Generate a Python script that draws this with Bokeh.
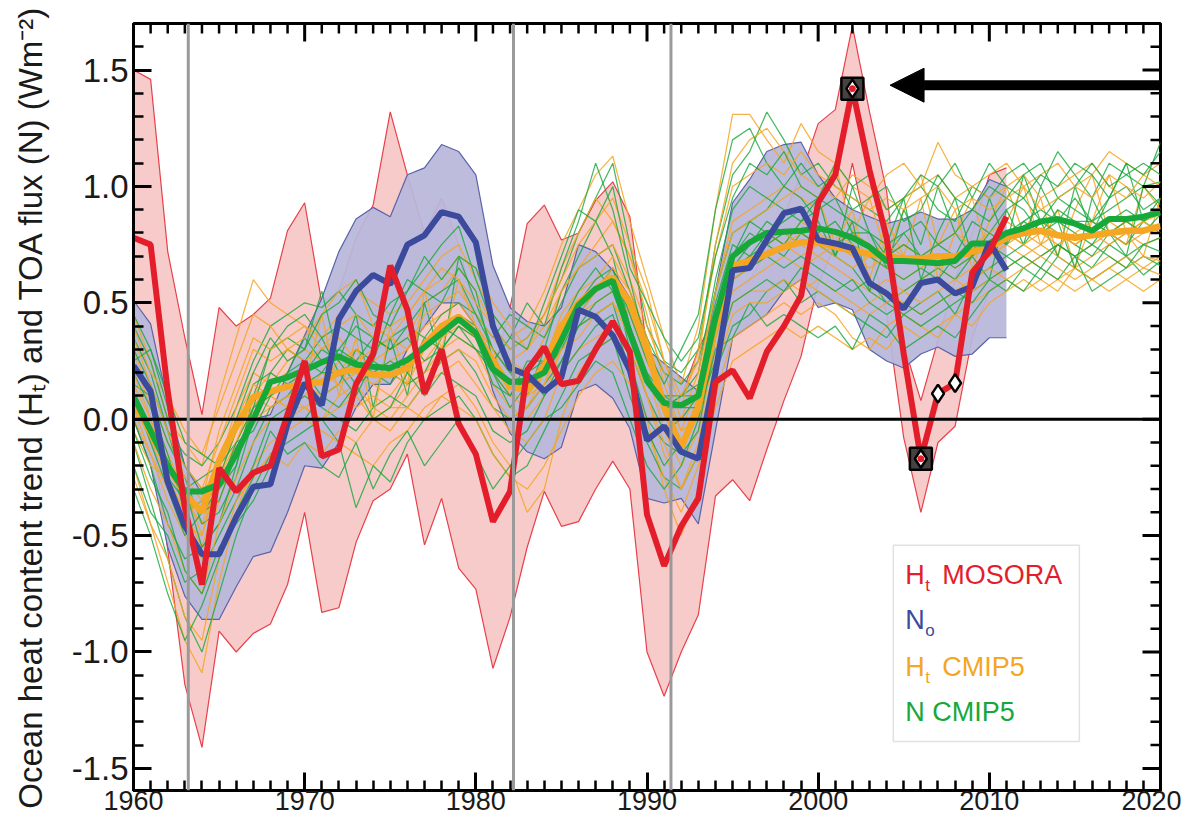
import math
from bokeh.plotting import figure
from bokeh.models import (Range1d, FixedTicker, NumeralTickFormatter, Span, Label,
                          BoxAnnotation, Arrow, NormalHead)
from bokeh.embed import file_html
from bokeh.resources import INLINE

# ---------------- data ----------------
years_obs = list(range(1960, 2012))
years_cmip = list(range(1960, 2021))

# Ht MOSORA (red) and its uncertainty band
mosora = [0.78, 0.75, 0.12, -0.38, -0.71, -0.21, -0.31, -0.23, -0.20, 0.02,
          0.25, -0.16, -0.13, 0.15, 0.28, 0.66, 0.47, 0.11, 0.30, -0.02,
          -0.15, -0.44, -0.31, 0.21, 0.31, 0.15, 0.165, 0.30, 0.42, 0.29,
          -0.41, -0.63, -0.46, -0.34, 0.16, 0.21, 0.09, 0.29, 0.40, 0.53,
          0.93, 1.05, 1.42, 1.07, 0.78, 0.28, -0.17, 0.11, 0.155, 0.63,
          0.72, 0.87]
mosora_hi = [1.50, 1.46, 0.72, 0.35, 0.02, 0.48, 0.40, 0.45, 0.52, 0.81,
             0.93, 0.50, 0.55, 0.78, 0.92, 1.32, 1.05, 0.80, 0.95, 0.75,
             0.45, 0.20, 0.48, 0.84, 0.92, 0.77, 0.80, 0.94, 1.02, 0.87,
             0.30, -0.05, 0.10, 0.30, 0.45, 0.55, 0.60, 0.72, 0.88, 1.05,
             1.27, 1.33, 1.69, 1.32, 0.98, 0.32, 0.08, 0.34, 0.60, 0.80,
             1.05, 1.08]
mosora_lo = [0.30, 0.00, -0.56, -1.14, -1.41, -0.91, -1.00, -0.92, -0.88, -0.71,
             -0.40, -0.83, -0.81, -0.53, -0.35, -0.30, -0.15, -0.54, -0.34, -0.64,
             -0.73, -1.07, -0.85, -0.55, -0.31, -0.46, -0.44, -0.30, -0.18, -0.30,
             -1.00, -1.19, -1.00, -0.84, -0.33, -0.26, -0.35, -0.13, 0.08, 0.27,
             0.58, 0.75, 1.10, 0.75, 0.45, -0.08, -0.40, -0.10, -0.03, 0.35,
             0.55, 0.65]

# No (blue) and its uncertainty band
n_obs = [0.23, 0.12, -0.27, -0.46, -0.58, -0.58, -0.42, -0.29, -0.28, -0.02,
         0.155, 0.06, 0.43, 0.55, 0.62, 0.58, 0.75, 0.79, 0.89, 0.87,
         0.76, 0.40, 0.22, 0.19, 0.12, 0.18, 0.47, 0.44, 0.36, 0.21,
         -0.09, -0.03, -0.14, -0.17, 0.20, 0.64, 0.65, 0.77, 0.885, 0.905,
         0.77, 0.755, 0.735, 0.585, 0.54, 0.475, 0.585, 0.60, 0.54, 0.57,
         0.76, 0.64]
n_obs_hi = [0.51, 0.41, 0.07, -0.20, -0.32, -0.30, -0.12, 0.00, 0.02, 0.20,
            0.36, 0.52, 0.72, 0.86, 0.91, 0.87, 1.05, 1.08, 1.18, 1.15,
            1.05, 0.66, 0.48, 0.42, 0.40, 0.48, 0.75, 0.72, 0.64, 0.52,
            0.30, 0.24, 0.18, 0.12, 0.55, 0.93, 1.03, 1.15, 1.18, 1.19,
            1.05, 0.95, 0.90, 0.87, 0.84, 0.86, 0.89, 0.86, 0.86, 0.90,
            1.03, 1.00]
n_obs_lo = [0.00, -0.20, -0.55, -0.76, -0.86, -0.86, -0.72, -0.59, -0.57, -0.40,
            -0.20, -0.21, -0.10, 0.05, 0.15, 0.15, 0.30, 0.40, 0.50, 0.50,
            0.40, 0.12, -0.06, -0.14, -0.17, -0.12, 0.12, 0.15, 0.09, -0.04,
            -0.34, -0.36, -0.34, -0.45, -0.05, 0.35, 0.40, 0.45, 0.55, 0.60,
            0.48, 0.50, 0.47, 0.30, 0.25, 0.22, 0.28, 0.31, 0.27, 0.28,
            0.35, 0.35]

# CMIP5 ensemble means
ht_cmip5_mean = [0.08, -0.06, -0.20, -0.32, -0.40, -0.18, -0.03, 0.095, 0.12, 0.14,
                 0.15, 0.16, 0.20, 0.215, 0.19, 0.19, 0.22, 0.32, 0.40, 0.44,
                 0.37, 0.25, 0.14, 0.125, 0.23, 0.40, 0.50, 0.56, 0.61, 0.50,
                 0.30, 0.05, -0.12, 0.05, 0.40, 0.66, 0.68, 0.71, 0.74, 0.76,
                 0.76, 0.74, 0.725, 0.71, 0.70, 0.69, 0.69, 0.70, 0.70, 0.72,
                 0.735, 0.78, 0.80, 0.81, 0.79, 0.78, 0.79, 0.80, 0.81, 0.81,
                 0.83]
n_cmip5_mean = [0.10, -0.05, -0.20, -0.31, -0.31, -0.28, -0.15, 0.00, 0.16, 0.18,
                0.21, 0.245, 0.27, 0.235, 0.225, 0.22, 0.255, 0.31, 0.37, 0.43,
                0.37, 0.215, 0.16, 0.165, 0.20, 0.34, 0.49, 0.56, 0.595, 0.37,
                0.165, 0.07, 0.06, 0.10, 0.435, 0.70, 0.76, 0.80, 0.805, 0.81,
                0.82, 0.805, 0.78, 0.74, 0.68, 0.68, 0.675, 0.67, 0.68, 0.755,
                0.755, 0.80, 0.82, 0.85, 0.86, 0.84, 0.81, 0.86, 0.86, 0.87,
                0.89]

# N CMIP5 individual models (thin green)
n_m01 = [0.35, 0.20, -0.05, -0.15, -0.20, -0.10, 0.05, 0.25, 0.40, 0.45,
         0.50, 0.48, 0.55, 0.45, 0.40, 0.50, 0.55, 0.65, 0.75, 0.83,
         0.60, 0.40, 0.30, 0.35, 0.45, 0.60, 0.80, 0.95, 1.10, 0.75,
         0.40, 0.25, 0.20, 0.30, 0.75, 1.05, 1.15, 1.32, 1.20, 1.05,
         1.10, 1.00, 0.95, 0.90, 0.85, 0.95, 1.00, 0.90, 0.85, 1.00,
         0.95, 1.05, 1.10, 1.00, 1.15, 1.05, 0.95, 1.10, 1.05, 1.00, 1.19]
n_m02 = [-0.10, -0.35, -0.60, -0.85, -1.00, -0.75, -0.50, -0.30, -0.15, -0.10,
         -0.05, 0.00, -0.10, -0.38, -0.20, -0.27, -0.10, 0.00, 0.05, 0.10,
         0.00, -0.15, -0.25, -0.20, -0.05, 0.10, 0.25, 0.30, 0.35, 0.10,
         -0.10, -0.25, -0.30, -0.15, 0.20, 0.40, 0.45, 0.55, 0.60, 0.50,
         0.55, 0.50, 0.45, 0.40, 0.35, 0.45, 0.40, 0.45, 0.50, 0.55,
         0.60, 0.55, 0.65, 0.60, 0.70, 0.65, 0.60, 0.65, 0.70, 0.62, 0.68]
n_m03 = [0.20, 0.05, -0.15, -0.40, -0.35, -0.30, -0.20, 0.10, 0.30, 0.35,
         0.30, 0.55, 0.25, 0.45, 0.05, 0.35, 0.10, 0.50, 0.25, 0.70,
         0.50, 0.30, 0.20, 0.10, 0.30, 0.55, 0.70, 0.85, 0.70, 0.40,
         0.20, 0.05, 0.10, 0.20, 0.60, 0.90, 1.00, 0.95, 0.90, 0.85,
         0.90, 0.95, 0.80, 0.75, 0.70, 0.80, 0.85, 0.75, 0.70, 0.85,
         0.80, 0.90, 0.95, 0.85, 0.95, 0.90, 0.85, 0.95, 1.00, 0.90, 0.95]
n_m04 = [0.00, -0.20, -0.45, -0.60, -0.55, -0.45, -0.30, -0.10, 0.05, 0.10,
         0.20, 0.10, 0.15, 0.30, 0.25, 0.20, 0.15, 0.20, 0.35, 0.45,
         0.40, 0.20, 0.05, 0.15, 0.20, 0.30, 0.45, 0.55, 0.60, 0.30,
         0.10, -0.05, 0.00, 0.10, 0.45, 0.70, 0.80, 0.75, 0.70, 0.80,
         0.75, 0.70, 0.65, 0.55, 0.50, 0.55, 0.60, 0.65, 0.60, 0.70,
         0.75, 0.70, 0.75, 0.85, 0.80, 0.75, 0.70, 0.80, 0.75, 0.85, 0.80]
n_m05 = [0.40, 0.25, 0.00, -0.20, -0.30, -0.25, -0.05, 0.15, 0.20, 0.30,
         0.25, 0.35, 0.40, 0.35, 0.30, 0.35, 0.40, 0.35, 0.45, 0.50,
         0.45, 0.35, 0.45, 0.40, 0.35, 0.50, 0.65, 0.70, 0.75, 0.55,
         0.35, 0.20, 0.15, 0.25, 0.55, 0.80, 0.85, 0.90, 1.00, 0.95,
         0.85, 0.70, 1.00, 0.80, 0.65, 0.90, 0.75, 1.00, 0.80, 0.70,
         0.95, 0.75, 1.05, 0.85, 0.70, 1.00, 0.80, 0.95, 1.10, 0.85, 0.95]
n_m06 = [-0.20, -0.40, -0.50, -0.70, -0.65, -0.50, -0.35, -0.20, 0.00, 0.05,
         0.10, 0.05, 0.00, -0.05, 0.05, 0.10, 0.05, 0.15, 0.25, 0.30,
         0.20, 0.05, 0.00, 0.05, 0.15, 0.25, 0.40, 0.45, 0.50, 0.25,
         0.00, -0.10, -0.15, -0.05, 0.35, 0.60, 0.65, 0.70, 0.65, 0.70,
         0.65, 0.60, 0.55, 0.60, 0.50, 0.45, 0.50, 0.55, 0.45, 0.60,
         0.65, 0.70, 0.65, 0.70, 0.75, 0.70, 0.65, 0.75, 0.70, 0.75, 0.78]
n_m07 = [0.15, 0.10, -0.10, -0.25, -0.45, -0.40, -0.25, 0.00, 0.20, 0.15,
         0.20, 0.30, 0.25, 0.15, 0.20, 0.25, 0.20, 0.35, 0.30, 0.40,
         0.35, 0.15, 0.10, 0.25, 0.25, 0.40, 0.55, 0.65, 0.55, 0.35,
         0.15, 0.05, 0.05, 0.05, 0.40, 0.65, 0.75, 0.85, 0.80, 0.75,
         0.80, 0.85, 0.75, 0.70, 0.65, 0.60, 0.65, 0.60, 0.70, 0.75,
         0.70, 0.80, 0.85, 0.90, 0.85, 0.80, 0.75, 0.85, 0.90, 0.85, 0.90]
n_m08 = [0.30, 0.15, -0.05, -0.30, -0.25, -0.20, -0.10, 0.05, 0.15, 0.20,
         0.35, 0.25, 0.30, 0.40, 0.35, 0.30, 0.35, 0.25, 0.30, 0.40,
         0.30, 0.25, 0.15, 0.15, 0.20, 0.35, 0.50, 0.60, 0.65, 0.45,
         0.25, 0.10, 0.10, 0.15, 0.50, 0.75, 0.70, 0.80, 0.85, 0.90,
         0.95, 0.90, 0.85, 0.80, 0.75, 0.80, 0.70, 0.75, 0.80, 0.90,
         0.85, 0.95, 0.90, 0.80, 0.85, 0.95, 0.85, 0.90, 0.95, 1.00, 1.02]
n_m09 = [0.10, -0.10, -0.30, -0.50, -0.40, -0.35, -0.15, 0.05, 0.10, 0.15,
         0.15, 0.20, 0.20, 0.25, 0.35, 0.30, 0.40, 0.50, 0.55, 0.60,
         0.45, 0.30, 0.20, 0.20, 0.25, 0.35, 0.50, 0.55, 0.65, 0.40,
         0.20, 0.10, 0.05, 0.10, 0.45, 0.70, 0.85, 0.80, 0.75, 0.85,
         0.95, 0.70, 0.85, 0.55, 0.75, 0.95, 0.60, 0.80, 0.95, 0.70,
         0.60, 0.90, 0.75, 1.00, 0.85, 0.65, 0.95, 0.80, 0.70, 1.00, 0.92]
n_m10 = [0.05, -0.05, -0.25, -0.35, -0.40, -0.30, -0.10, -0.05, 0.10, 0.20,
         0.25, 0.20, 0.30, 0.25, 0.20, 0.15, 0.25, 0.30, 0.40, 0.35,
         0.30, 0.20, 0.10, 0.20, 0.10, 0.25, 0.40, 0.50, 0.55, 0.35,
         0.15, 0.05, 0.10, 0.10, 0.40, 0.65, 0.70, 0.75, 0.80, 0.80,
         0.75, 0.75, 0.80, 0.80, 0.70, 0.75, 0.70, 0.70, 0.65, 0.70,
         0.80, 0.75, 0.85, 0.80, 0.90, 0.85, 0.85, 0.80, 0.85, 0.80, 0.88]
n_m11 = [0.25, 0.30, 0.05, -0.30, -0.55, -0.45, -0.20, 0.05, 0.30, 0.40,
         0.45, 0.35, 0.20, 0.10, 0.25, 0.45, 0.60, 0.55, 0.50, 0.65,
         0.55, 0.25, 0.35, 0.50, 0.40, 0.65, 0.85, 1.10, 0.90, 0.60,
         0.30, 0.15, 0.30, 0.45, 0.90, 1.20, 1.25, 1.10, 1.00, 1.10,
         1.00, 1.05, 0.90, 0.95, 1.00, 0.85, 0.90, 1.05, 0.95, 0.90,
         1.00, 0.95, 1.05, 1.10, 0.95, 1.00, 1.10, 1.00, 1.05, 1.10, 1.05]
n_m12 = [-0.30, -0.50, -0.75, -0.95, -0.80, -0.60, -0.40, -0.25, -0.05, -0.15,
         -0.10, -0.20, -0.25, -0.10, -0.30, -0.15, -0.05, -0.20, -0.10, 0.00,
         -0.15, -0.30, -0.20, -0.10, 0.00, 0.05, 0.15, 0.25, 0.20, 0.00,
         -0.20, -0.30, -0.20, 0.00, 0.30, 0.35, 0.50, 0.40, 0.45, 0.40,
         0.35, 0.40, 0.30, 0.45, 0.40, 0.30, 0.35, 0.40, 0.35, 0.45,
         0.55, 0.60, 0.55, 0.65, 0.60, 0.70, 0.55, 0.60, 0.65, 0.70, 0.66]
n_m13 = [0.45, 0.30, 0.10, -0.10, -0.15, -0.20, 0.00, 0.20, 0.35, 0.25,
         0.30, 0.45, 0.50, 0.60, 0.45, 0.40, 0.55, 0.70, 0.60, 0.70,
         0.65, 0.45, 0.35, 0.30, 0.50, 0.70, 0.90, 0.85, 1.00, 0.65,
         0.50, 0.35, 0.25, 0.35, 0.70, 0.95, 1.10, 1.05, 1.15, 1.00,
         0.95, 1.10, 1.00, 1.05, 0.90, 0.95, 1.05, 1.00, 1.10, 0.95,
         1.10, 1.00, 0.95, 1.05, 1.00, 1.10, 1.05, 0.95, 1.10, 1.05, 1.15]
n_m14 = [-0.05, -0.25, -0.40, -0.65, -0.75, -0.55, -0.45, -0.35, -0.20, 0.00,
         0.00, 0.10, 0.05, 0.15, 0.00, 0.05, 0.20, 0.10, 0.20, 0.15,
         0.10, -0.05, -0.10, -0.05, 0.10, 0.20, 0.30, 0.40, 0.45, 0.20,
         -0.05, -0.20, -0.10, 0.05, 0.25, 0.50, 0.55, 0.60, 0.55, 0.65,
         0.60, 0.55, 0.60, 0.50, 0.45, 0.50, 0.45, 0.50, 0.55, 0.50,
         0.60, 0.65, 0.70, 0.65, 0.75, 0.70, 0.75, 0.70, 0.65, 0.75, 0.72]

# Ht CMIP5 individual models (thin orange)
ht_m01 = [0.45, 0.25, 0.00, -0.10, -0.20, 0.10, 0.35, 0.60, 0.50, 0.45,
          0.40, 0.35, 0.45, 0.55, 0.50, 0.45, 0.50, 0.60, 0.70, 0.75,
          0.60, 0.45, 0.35, 0.40, 0.55, 0.75, 0.90, 1.05, 1.13, 0.85,
          0.60, 0.35, 0.15, 0.40, 0.90, 1.31, 1.31, 1.20, 1.10, 1.27,
          1.15, 1.10, 1.00, 0.95, 1.05, 1.10, 1.00, 1.19, 1.05, 1.00,
          1.05, 1.10, 1.00, 1.05, 1.10, 1.00, 1.05, 1.15, 1.10, 1.05, 1.10]
ht_m02 = [-0.20, -0.45, -0.70, -0.95, -1.09, -0.70, -0.40, -0.20, -0.10, -0.05,
          0.00, -0.05, -0.10, -0.15, -0.20, -0.10, -0.05, 0.05, 0.10, 0.15,
          0.05, -0.10, -0.20, -0.40, -0.30, 0.00, 0.20, 0.30, 0.35, 0.20,
          0.00, -0.30, -0.50, -0.30, 0.10, 0.35, 0.40, 0.45, 0.50, 0.45,
          0.50, 0.45, 0.35, 0.30, 0.40, 0.45, 0.40, 0.35, 0.45, 0.50,
          0.55, 0.60, 0.55, 0.60, 0.55, 0.65, 0.60, 0.55, 0.60, 0.65, 0.62]
ht_m03 = [0.25, 0.05, -0.15, -0.30, -0.50, -0.20, 0.05, 0.20, 0.15, 0.25,
          0.30, 0.25, 0.20, 0.30, 0.25, 0.30, 0.35, 0.50, 0.55, 0.65,
          0.55, 0.40, 0.25, 0.20, 0.35, 0.55, 0.65, 0.75, 0.85, 0.70,
          0.45, 0.15, -0.05, 0.15, 0.55, 0.85, 0.90, 0.95, 1.00, 0.95,
          0.90, 1.10, 0.80, 0.95, 0.70, 0.90, 1.05, 0.75, 0.90, 0.65,
          0.85, 1.00, 0.80, 0.95, 0.70, 0.90, 1.05, 0.80, 0.75, 1.00, 0.90]
ht_m04 = [0.00, -0.15, -0.35, -0.50, -0.60, -0.35, -0.15, 0.00, 0.05, 0.10,
          0.05, 0.10, 0.15, 0.05, 0.10, 0.05, 0.15, 0.20, 0.30, 0.35,
          0.30, 0.15, 0.05, 0.00, 0.10, 0.30, 0.40, 0.45, 0.50, 0.40,
          0.20, -0.05, -0.20, -0.05, 0.30, 0.55, 0.60, 0.65, 0.70, 0.65,
          0.70, 0.65, 0.60, 0.55, 0.60, 0.55, 0.60, 0.65, 0.60, 0.65,
          0.70, 0.75, 0.70, 0.75, 0.70, 0.65, 0.70, 0.75, 0.80, 0.75, 0.78]
ht_m05 = [0.15, 0.00, -0.20, -0.35, -0.45, -0.25, -0.05, 0.10, 0.20, 0.15,
          0.20, 0.15, 0.25, 0.30, 0.20, 0.25, 0.30, 0.40, 0.45, 0.50,
          0.40, 0.30, 0.20, 0.15, 0.25, 0.45, 0.55, 0.60, 0.70, 0.55,
          0.35, 0.10, -0.10, 0.10, 0.45, 0.70, 0.75, 0.80, 0.75, 0.85,
          0.80, 0.75, 0.80, 0.75, 0.70, 0.75, 0.70, 0.75, 0.80, 0.75,
          0.80, 0.85, 0.80, 0.85, 0.80, 0.75, 0.80, 0.85, 0.80, 0.85, 0.88]
ht_m06 = [-0.05, -0.20, -0.25, -0.40, -0.35, -0.15, 0.00, 0.15, 0.10, 0.05,
          0.10, 0.20, 0.15, 0.20, 0.15, 0.10, 0.20, 0.25, 0.35, 0.40,
          0.35, 0.20, 0.10, 0.05, 0.20, 0.35, 0.45, 0.50, 0.55, 0.45,
          0.25, 0.05, -0.15, 0.05, 0.40, 0.60, 0.65, 0.70, 0.75, 0.70,
          0.75, 0.70, 0.65, 0.70, 0.65, 0.60, 0.65, 0.70, 0.65, 0.70,
          0.75, 0.80, 0.75, 0.70, 0.75, 0.70, 0.75, 0.80, 0.75, 0.80, 0.82]
ht_m07 = [0.30, 0.10, -0.10, -0.20, -0.30, -0.10, 0.10, 0.30, 0.25, 0.30,
          0.25, 0.30, 0.35, 0.25, 0.30, 0.35, 0.30, 0.45, 0.50, 0.55,
          0.45, 0.35, 0.25, 0.30, 0.40, 0.55, 0.65, 0.70, 0.75, 0.60,
          0.40, 0.20, 0.00, 0.20, 0.55, 0.80, 0.85, 0.90, 0.95, 1.00,
          0.95, 0.75, 0.90, 0.60, 0.85, 0.70, 0.95, 0.60, 0.80, 0.95,
          0.70, 0.85, 1.00, 0.75, 0.90, 0.65, 0.85, 1.05, 0.80, 0.70, 0.95]
ht_m08 = [0.10, -0.10, -0.25, -0.40, -0.55, -0.30, -0.10, 0.05, 0.10, 0.05,
          0.05, 0.00, 0.10, 0.15, 0.05, 0.00, 0.10, 0.20, 0.25, 0.30,
          0.25, 0.10, 0.00, 0.05, 0.15, 0.30, 0.35, 0.45, 0.50, 0.35,
          0.10, -0.15, -0.30, -0.10, 0.25, 0.50, 0.55, 0.55, 0.60, 0.55,
          0.60, 0.55, 0.50, 0.45, 0.50, 0.55, 0.50, 0.55, 0.60, 0.55,
          0.60, 0.65, 0.70, 0.65, 0.60, 0.65, 0.60, 0.65, 0.70, 0.65, 0.70]
ht_m09 = [0.20, 0.00, -0.20, -0.30, -0.40, -0.20, -0.05, 0.05, 0.15, 0.20,
          0.15, 0.10, 0.15, 0.20, 0.15, 0.20, 0.15, 0.30, 0.40, 0.45,
          0.35, 0.25, 0.15, 0.10, 0.20, 0.40, 0.50, 0.55, 0.60, 0.50,
          0.30, 0.05, -0.10, 0.05, 0.40, 0.65, 0.70, 0.70, 0.75, 0.80,
          0.75, 0.80, 0.75, 0.70, 0.75, 0.70, 0.65, 0.70, 0.70, 0.75,
          0.70, 0.75, 0.80, 0.75, 0.80, 0.75, 0.80, 0.75, 0.80, 0.85, 0.80]
ht_m10 = [0.05, -0.15, -0.30, -0.45, -0.50, -0.25, -0.10, 0.10, 0.05, 0.10,
          0.15, 0.45, 0.10, 0.35, 0.00, 0.40, 0.15, 0.55, 0.30, 0.60,
          0.40, 0.30, 0.10, 0.10, 0.15, 0.35, 0.45, 0.55, 0.65, 0.55,
          0.35, 0.10, -0.05, 0.00, 0.35, 0.60, 0.65, 0.75, 0.80, 0.75,
          0.70, 0.75, 0.70, 0.65, 0.70, 0.75, 0.70, 0.65, 0.70, 0.70,
          0.75, 0.80, 0.75, 0.80, 0.75, 0.80, 0.85, 0.80, 0.85, 0.80, 0.84]
ht_m11 = [0.40, 0.20, 0.10, -0.05, -0.15, 0.05, 0.25, 0.45, 0.40, 0.30,
          0.35, 0.45, 0.55, 0.60, 0.40, 0.35, 0.45, 0.55, 0.60, 0.70,
          0.65, 0.50, 0.40, 0.30, 0.45, 0.65, 0.80, 0.95, 0.85, 0.70,
          0.50, 0.25, 0.10, 0.25, 0.75, 1.10, 1.20, 1.25, 1.15, 1.05,
          1.00, 0.95, 1.05, 1.00, 0.90, 0.95, 1.00, 1.05, 0.95, 1.00,
          0.95, 1.00, 1.05, 0.95, 1.00, 1.05, 1.10, 1.00, 0.95, 1.05, 1.00]
ht_m12 = [-0.25, -0.45, -0.60, -0.85, -0.95, -0.60, -0.35, -0.25, -0.15, -0.20,
          -0.10, -0.15, -0.05, -0.10, 0.00, -0.05, 0.05, 0.00, 0.10, 0.05,
          0.00, -0.15, -0.25, -0.30, -0.20, -0.05, 0.10, 0.20, 0.25, 0.15,
          -0.05, -0.25, -0.40, -0.20, 0.05, 0.25, 0.30, 0.35, 0.40, 0.35,
          0.40, 0.35, 0.30, 0.35, 0.30, 0.40, 0.35, 0.40, 0.45, 0.40,
          0.50, 0.55, 0.60, 0.55, 0.60, 0.55, 0.60, 0.65, 0.60, 0.55, 0.60]
ht_m13 = [0.35, 0.15, -0.05, -0.25, -0.35, -0.05, 0.15, 0.35, 0.30, 0.35,
          0.40, 0.30, 0.40, 0.45, 0.35, 0.40, 0.45, 0.55, 0.65, 0.60,
          0.50, 0.40, 0.30, 0.35, 0.45, 0.60, 0.75, 0.85, 0.95, 0.75,
          0.55, 0.25, 0.05, 0.30, 0.70, 1.00, 1.05, 1.10, 1.05, 1.15,
          1.05, 1.00, 0.95, 0.90, 0.95, 0.90, 0.95, 1.00, 0.90, 0.95,
          0.90, 0.95, 1.00, 0.90, 0.95, 1.00, 0.95, 1.05, 1.00, 0.95, 1.02]
ht_m14 = [-0.10, -0.30, -0.45, -0.65, -0.75, -0.45, -0.25, -0.10, 0.00, 0.00,
          0.05, 0.00, 0.05, 0.10, 0.00, 0.05, 0.05, 0.15, 0.20, 0.25,
          0.15, 0.05, -0.05, -0.10, 0.00, 0.20, 0.30, 0.35, 0.40, 0.30,
          0.10, -0.10, -0.30, -0.15, 0.20, 0.45, 0.50, 0.50, 0.55, 0.60,
          0.55, 0.50, 0.45, 0.50, 0.55, 0.50, 0.45, 0.50, 0.55, 0.60,
          0.65, 0.60, 0.65, 0.70, 0.65, 0.60, 0.65, 0.70, 0.65, 0.70, 0.68]

n_members = [n_m01, n_m02, n_m03, n_m04, n_m05, n_m06, n_m07,
             n_m08, n_m09, n_m10, n_m11, n_m12, n_m13, n_m14]
ht_members = [ht_m01, ht_m02, ht_m03, ht_m04, ht_m05, ht_m06, ht_m07,
              ht_m08, ht_m09, ht_m10, ht_m11, ht_m12, ht_m13, ht_m14]

# highlighted years (markers on the MOSORA curve)
boxed_years = [2002, 2006]
diamond_years = [2002, 2006, 2007, 2008]

# volcanic eruptions (Agung, El Chichon, Pinatubo)
eruptions = [1963.2, 1982.2, 1991.4]

x_ticks = [1960, 1970, 1980, 1990, 2000, 2010, 2020]
y_ticks = [-1.5, -1.0, -0.5, 0.0, 0.5, 1.0, 1.5]
x_minor = [y for y in range(1960, 2021) if y not in x_ticks]
y_minor = [-1.4, -1.3, -1.2, -1.1, -0.9, -0.8, -0.7, -0.6, -0.4, -0.3,
           -0.2, -0.1, 0.1, 0.2, 0.3, 0.4, 0.6, 0.7, 0.8, 0.9, 1.1, 1.2,
           1.3, 1.4, 1.6]
x_lo, x_hi = 1960, 2020
y_lo, y_hi = -1.595, 1.70

y_label = "Ocean heat content trend (H\u209c) and TOA flux (N) (Wm\u207b\u00b2)"

# colours
RED = "#e31e2a"
PINK = "#f8cbcb"
PINK_EDGE = "#e8404a"
BLUE = "#3b4a9c"
LAV = "#b8b7da"
LAV_EDGE = "#5b63a8"
ORANGE = "#f5a623"
GREEN = "#17a83a"
FONT = "Liberation Sans"

# ---------------- figure ----------------
p = figure(width=1181, height=820,
           x_range=Range1d(x_lo, x_hi), y_range=Range1d(y_lo, y_hi),
           output_backend="svg", toolbar_location=None,
           min_border_left=133, min_border_right=21, min_border_top=23, min_border_bottom=30)
p.xgrid.visible = False
p.ygrid.visible = False
p.outline_line_color = "black"
p.outline_line_width = 3
p.background_fill_color = "white"
p.border_fill_color = "white"

# uncertainty bands
p.varea(x=years_obs, y1=mosora_lo, y2=mosora_hi, fill_color=PINK, fill_alpha=1.0)
p.line(years_obs, mosora_hi, line_color=PINK_EDGE, line_width=1.2)
p.line(years_obs, mosora_lo, line_color=PINK_EDGE, line_width=1.2)
p.varea(x=years_obs, y1=n_obs_lo, y2=n_obs_hi, fill_color=LAV, fill_alpha=0.93)
p.line(years_obs, n_obs_hi, line_color=LAV_EDGE, line_width=1.2)
p.line(years_obs, n_obs_lo, line_color=LAV_EDGE, line_width=1.2)

# individual CMIP5 models
for ht_m, n_m in zip(ht_members, n_members):
    p.line(years_cmip, ht_m, line_color=ORANGE, line_width=1.25, line_alpha=0.85)
    p.line(years_cmip, n_m, line_color=GREEN, line_width=1.25, line_alpha=0.8)

# ensemble means and observations
p.line(years_cmip, ht_cmip5_mean, line_color=ORANGE, line_width=6.5)
p.line(years_cmip, n_cmip5_mean, line_color=GREEN, line_width=6)
p.line(years_obs, n_obs, line_color=BLUE, line_width=6)
p.line(years_obs, mosora, line_color=RED, line_width=6)

# markers
box_vals = [mosora[years_obs.index(y)] for y in boxed_years]
dia_vals = [mosora[years_obs.index(y)] for y in diamond_years]
p.scatter(boxed_years, box_vals, marker="square", size=22, fill_color="#333333", fill_alpha=0.9,
          line_color="black", line_width=2.5)
p.scatter(diamond_years, dia_vals, marker="diamond", size=18, fill_color="white",
          line_color="black", line_width=2.5)
p.scatter(boxed_years, box_vals, marker="circle", size=6, fill_color=RED, line_color=RED)

# reference lines
p.add_layout(Span(location=0, dimension="width", line_color="black", line_width=3))
for yr in eruptions:
    p.add_layout(Span(location=yr, dimension="height", line_color="#9a9a9a", line_width=3))

# mirrored inward ticks on the top and right edges of the frame
p.ray(x=x_ticks, y=[y_hi] * len(x_ticks), length=18, length_units="screen",
      angle=-math.pi / 2, line_color="black", line_width=3)
p.ray(x=x_minor, y=[y_hi] * len(x_minor), length=10, length_units="screen",
      angle=-math.pi / 2, line_color="black", line_width=2.5)
p.ray(x=[x_hi] * len(y_ticks), y=y_ticks, length=18, length_units="screen",
      angle=math.pi, line_color="black", line_width=3)
p.ray(x=[x_hi] * len(y_minor), y=y_minor, length=10, length_units="screen",
      angle=math.pi, line_color="black", line_width=2.5)

# ---------------- axes ----------------
xax = p.below[0]
yax = p.left[0]
xax.ticker = FixedTicker(ticks=x_ticks, minor_ticks=x_minor)
yax.ticker = FixedTicker(ticks=y_ticks, minor_ticks=y_minor)
yax.formatter = NumeralTickFormatter(format="0.0")

for ax in [xax, yax]:
    ax.axis_line_width = 3
    ax.axis_line_color = "black"
    ax.major_tick_in = 18
    ax.major_tick_out = 0
    ax.minor_tick_in = 10
    ax.minor_tick_out = 0
    ax.major_tick_line_width = 3
    ax.minor_tick_line_width = 2.5
    ax.major_tick_line_color = "black"
    ax.minor_tick_line_color = "black"
    ax.major_label_text_font = FONT
    ax.major_label_text_color = "#1a1a1a"

xax.major_label_text_font_size = "27px"
xax.major_label_standoff = 0
yax.major_label_text_font_size = "33px"
yax.major_label_standoff = 5
yax.axis_label = y_label
yax.axis_label_text_font = FONT
yax.axis_label_text_font_size = "33px"
yax.axis_label_text_font_style = "normal"
yax.axis_label_text_color = "#1a1a1a"
yax.axis_label_standoff = 20

# ---------------- legend (text only) ----------------
leg_left, leg_right, leg_top, leg_bottom = 2004.39, 2015.26, -0.541, -1.384
p.add_layout(BoxAnnotation(left=leg_left, right=leg_right, top=leg_top, bottom=leg_bottom,
                           fill_color="white", fill_alpha=1.0, line_color="#9a9a9a",
                           line_width=1.5))

leg_x = 2005.09          # left of the entry text
leg_sub_x = 2006.25      # subscript position
leg_after_x = 2007.25    # text after subscript
leg_rows = [-0.670, -0.864, -1.066, -1.259]
leg_size = "27px"
sub_size = "17px"


def leg_text(x, y, txt, color, size=leg_size):
    p.add_layout(Label(x=x, y=y, text=txt, text_color=color, text_font=FONT,
                       text_font_size=size, text_baseline="middle", text_align="left"))


leg_text(leg_x, leg_rows[0], "H", RED)
leg_text(leg_sub_x, leg_rows[0] - 0.045, "t", RED, sub_size)
leg_text(leg_after_x, leg_rows[0], "MOSORA", RED)
leg_text(leg_x, leg_rows[1], "N", BLUE)
leg_text(leg_sub_x, leg_rows[1] - 0.045, "o", BLUE, sub_size)
leg_text(leg_x, leg_rows[2], "H", ORANGE)
leg_text(leg_sub_x, leg_rows[2] - 0.045, "t", ORANGE, sub_size)
leg_text(leg_after_x, leg_rows[2], "CMIP5", ORANGE)
leg_text(leg_x, leg_rows[3], "N CMIP5", GREEN)

# ---------------- arrow pointing at the 2002 peak ----------------
arrow_x_start, arrow_x_end, arrow_y = 2020.9, 2004.2, 1.435
p.add_layout(Arrow(end=NormalHead(size=34, fill_color="black", line_color="black"),
                   x_start=arrow_x_start, y_start=arrow_y, x_end=arrow_x_end, y_end=arrow_y,
                   line_width=10, line_color="black"))

open("out.html", "w").write(file_html(p, INLINE))
